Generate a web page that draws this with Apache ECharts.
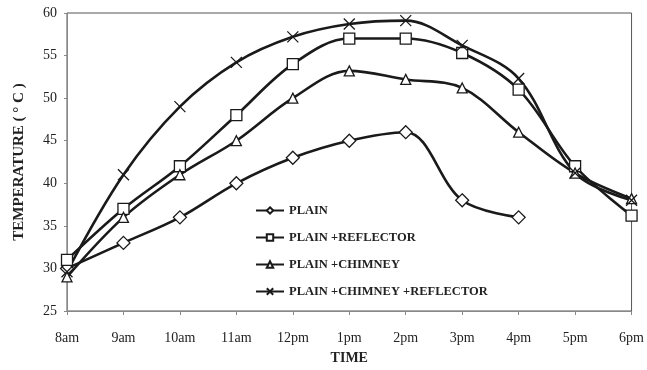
<!DOCTYPE html>
<html>
<head>
<meta charset="utf-8">
<script src="https://cdn.jsdelivr.net/npm/echarts@6/dist/echarts.min.js"></script>
<style>
  html, body { margin: 0; padding: 0; background: #ffffff; }
  #chart { width: 647px; height: 370px; }
</style>
</head>
<body>
<div id="chart"></div>
<script>
// Hourly readings across the day
var times = ['8am', '9am', '10am', '11am', '12pm', '1pm', '2pm', '3pm', '4pm', '5pm', '6pm'];

var plain = [30, 33, 36, 40, 43, 45, 46, 38, 36, null, null];
var plainReflector = [31, 37, 42, 48, 54, 57, 57, 55.3, 51, 42, 36.2];
var plainChimney = [29, 36, 41, 45, 50, 53.2, 52.2, 51.2, 46, 41.2, 38.2];
var plainChimneyReflector = [29.6, 41, 49, 54.2, 57.2, 58.7, 59.1, 56.2, 52.3, 41.2, 38];

var seriesNames = ['PLAIN', 'PLAIN +REFLECTOR', 'PLAIN +CHIMNEY', 'PLAIN +CHIMNEY +REFLECTOR'];

var serif = '"Liberation Serif", "DejaVu Serif", serif';
var crossPath = 'path://M0,0L10,10M10,0L0,10';

function makeSeries(name, data, symbol, size) {
  return {
    name: name,
    type: 'line',
    data: data,
    smooth: 0.35,
    connectNulls: false,
    symbol: symbol,
    symbolSize: size,
    showAllSymbol: true,
    lineStyle: { color: '#1a1a1a', width: 2.6 },
    itemStyle: { color: '#ffffff', borderColor: '#1a1a1a', borderWidth: 1.3 },
    emphasis: { disabled: true }
  };
}

var chart = echarts.init(document.getElementById('chart'), null, { renderer: 'canvas' });
chart.setOption({
  animation: false,
  backgroundColor: '#ffffff',
  grid: { left: 67, right: 14, top: 13, bottom: 58, show: true, borderColor: '#555', borderWidth: 1 },
  legend: {
    orient: 'vertical',
    left: 250,
    top: 199,
    itemGap: 14,
    itemWidth: 28,
    itemHeight: 8,
    data: seriesNames,
    textStyle: { fontFamily: serif, fontWeight: 'bold', fontSize: 12.5, color: '#222' }
  },
  xAxis: {
    type: 'category',
    data: times,
    boundaryGap: false,
    name: 'TIME',
    nameLocation: 'middle',
    nameGap: 40,
    nameTextStyle: { fontFamily: serif, fontWeight: 'bold', fontSize: 14, color: '#222' },
    axisLine: { lineStyle: { color: '#888', width: 1 } },
    axisTick: { alignWithLabel: true, length: 4, lineStyle: { color: '#888' } },
    axisLabel: { fontFamily: serif, fontSize: 14, color: '#222', margin: 20 },
    splitLine: { show: false }
  },
  yAxis: {
    type: 'value',
    min: 25,
    max: 60,
    interval: 5,
    name: 'TEMPERATURE ( ° C )',
    nameLocation: 'middle',
    nameGap: 40,
    nameTextStyle: { fontFamily: serif, fontWeight: 'bold', fontSize: 15, color: '#222' },
    axisLine: { show: true, lineStyle: { color: '#888', width: 1 } },
    axisTick: { show: true, length: 3, lineStyle: { color: '#888' } },
    axisLabel: { fontFamily: serif, fontSize: 14, color: '#222', margin: 10 },
    splitLine: { show: false }
  },
  series: [
    makeSeries(seriesNames[0], plain, 'diamond', 13),
    makeSeries(seriesNames[1], plainReflector, 'rect', 11),
    makeSeries(seriesNames[2], plainChimney, 'triangle', 10),
    makeSeries(seriesNames[3], plainChimneyReflector, crossPath, 11)
  ]
});
</script>
</body>
</html>
